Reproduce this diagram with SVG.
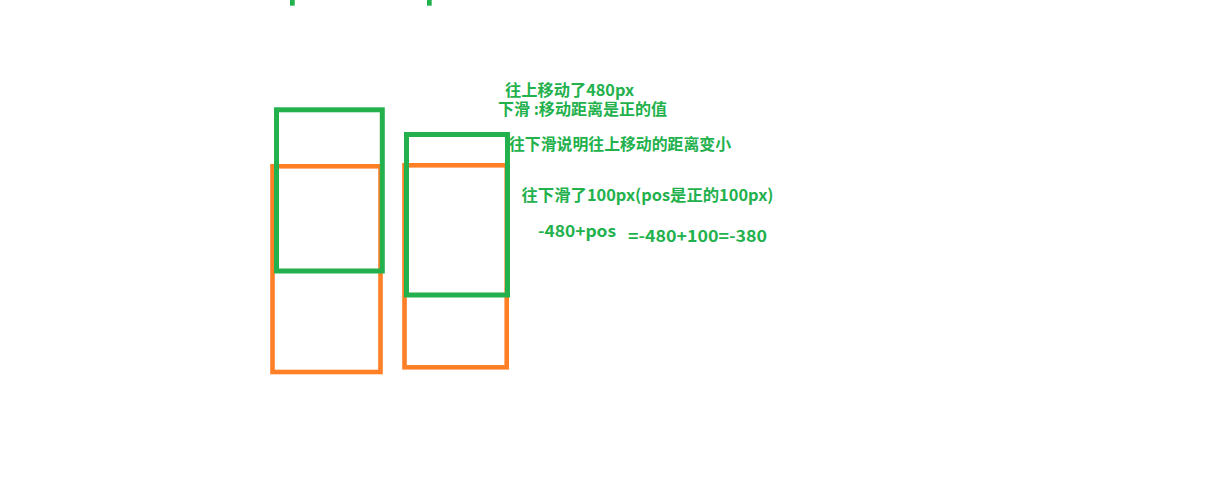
<svg xmlns="http://www.w3.org/2000/svg" width="1218" height="502" viewBox="0 0 1218 502">
<style>
.o{fill:none;stroke:#ff7f27;stroke-width:4.6}
.g{fill:none;stroke:#22b14c;stroke-width:5}
.t{fill:#22b14c;font-family:"Noto Sans CJK SC","Noto Sans",sans-serif;font-weight:bold;font-size:16px}
</style>
<rect width="1218" height="502" fill="#ffffff"/>
<g id="top-marks">
<rect x="290" y="0" width="4.7" height="5.7" fill="#22b14c"/>
<rect x="427" y="0" width="4.7" height="5.7" fill="#22b14c"/>
</g>
<g id="left-orange"><rect class="o" x="272.5" y="166.3" width="108" height="205.7"/></g>
<g id="left-green"><rect class="g" x="276.5" y="109.8" width="105.8" height="161.2"/></g>
<g id="right-orange"><rect class="o" x="404.5" y="165.3" width="102.2" height="202"/></g>
<g id="right-green"><rect class="g" x="406.5" y="134.5" width="101" height="160.5"/></g>
<g id="connectors"></g>
<g id="labels">
<text class="t" x="505" y="96" textLength="129" lengthAdjust="spacingAndGlyphs">往上移动了480px</text>
<text class="t" x="498" y="115" textLength="169" lengthAdjust="spacingAndGlyphs">下滑 :移动距离是正的值</text>
<text class="t" x="509" y="150" textLength="222" lengthAdjust="spacingAndGlyphs">往下滑说明往上移动的距离变小</text>
<text class="t" x="521.5" y="201" textLength="252" lengthAdjust="spacingAndGlyphs">往下滑了100px(pos是正的100px)</text>
<text class="t" x="538" y="237" textLength="78" lengthAdjust="spacingAndGlyphs">-480+pos</text>
<text class="t" x="628" y="242" textLength="139" lengthAdjust="spacingAndGlyphs">=-480+100=-380</text>
</g>
</svg>
